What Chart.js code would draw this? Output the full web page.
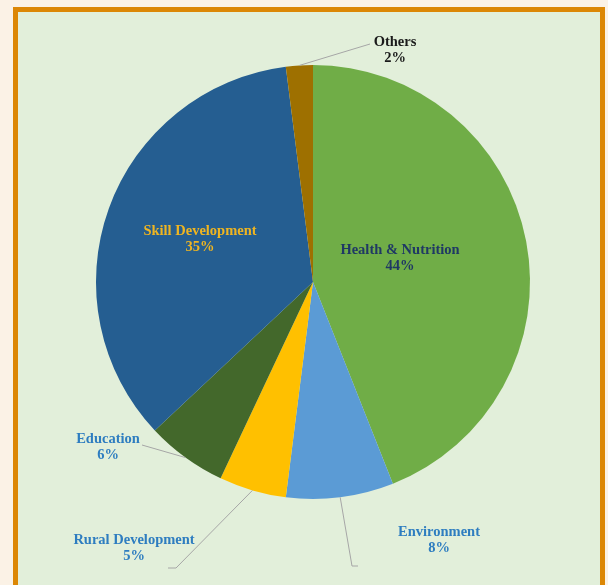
<!DOCTYPE html>
<html>
<head>
<meta charset="utf-8">
<script src="https://cdn.jsdelivr.net/npm/chart.js@4/dist/chart.umd.min.js"></script>
<style>
  html, body { margin: 0; padding: 0; background: #fbf2e6; overflow: hidden; }
  #frame {
    position: absolute; left: 13px; top: 7px; width: 582px; height: 600px;
    border: 5px solid #dc8705; background: #e2efda;
  }
  #pieChart { position: absolute; left: 0; top: 0; }
</style>
</head>
<body>
<div id="frame"></div>
<canvas id="pieChart" width="608" height="585"></canvas>
<script>
// share of spend per area, clockwise from 12 o'clock
var categories = ["Health & Nutrition", "Environment", "Rural Development", "Education", "Skill Development", "Others"];
var shares = [44, 8, 5, 6, 35, 2];
var colours = ["#70ad47", "#5b9bd5", "#ffc000", "#43682b", "#255e91", "#9e7000"];

// label placement: inside labels are offset from the pie centre, outside ones get a leader line
var labelLayout = [
  { dx: 87, dy: -24, color: "#1f3864" },
  { x: 439, y: 540, line: [[352, 566], [358, 566]], color: "#2e7dc0" },
  { x: 134, y: 548, line: [[176, 568], [168, 568]], color: "#2e7dc0" },
  { x: 108, y: 447, line: [[142, 445]], color: "#2e7dc0" },
  { dx: -113, dy: -43, color: "#efb521" },
  { x: 395, y: 50, line: [[370, 44]], color: "#1a1a1a" }
];

var sliceLabels = {
  id: 'sliceLabels',
  afterDatasetsDraw: function(chart) {
    var ctx = chart.ctx;
    var arcs = chart.getDatasetMeta(0).data;
    ctx.save();
    ctx.font = "bold 14.5px 'Liberation Serif', serif";
    ctx.textAlign = 'center';
    ctx.textBaseline = 'middle';
    arcs.forEach(function(arc, i) {
      var lay = labelLayout[i];
      var mid = (arc.startAngle + arc.endAngle) / 2;
      var cx = arc.x, cy = arc.y, r = arc.outerRadius;
      var tx, ty;
      if (lay.dx !== undefined) {
        tx = cx + lay.dx;
        ty = cy + lay.dy;
      } else {
        tx = lay.x; ty = lay.y;
        ctx.strokeStyle = '#a6a6a6';
        ctx.lineWidth = 1;
        ctx.beginPath();
        ctx.moveTo(cx + Math.cos(mid) * r, cy + Math.sin(mid) * r);
        lay.line.forEach(function(p) { ctx.lineTo(p[0], p[1]); });
        ctx.stroke();
      }
      ctx.fillStyle = lay.color;
      ctx.fillText(categories[i], tx, ty - 8);
      ctx.fillText(shares[i] + '%', tx, ty + 8);
    });
    ctx.restore();
  }
};

new Chart(document.getElementById('pieChart').getContext('2d'), {
  type: 'pie',
  data: {
    labels: categories,
    datasets: [{
      data: shares,
      backgroundColor: colours,
      borderWidth: 0
    }]
  },
  options: {
    responsive: false,
    animation: false,
    layout: { padding: { left: 96, right: 78, top: 65, bottom: 86 } },
    plugins: { legend: { display: false }, tooltip: { enabled: false } }
  },
  plugins: [sliceLabels]
});
</script>
</body>
</html>
